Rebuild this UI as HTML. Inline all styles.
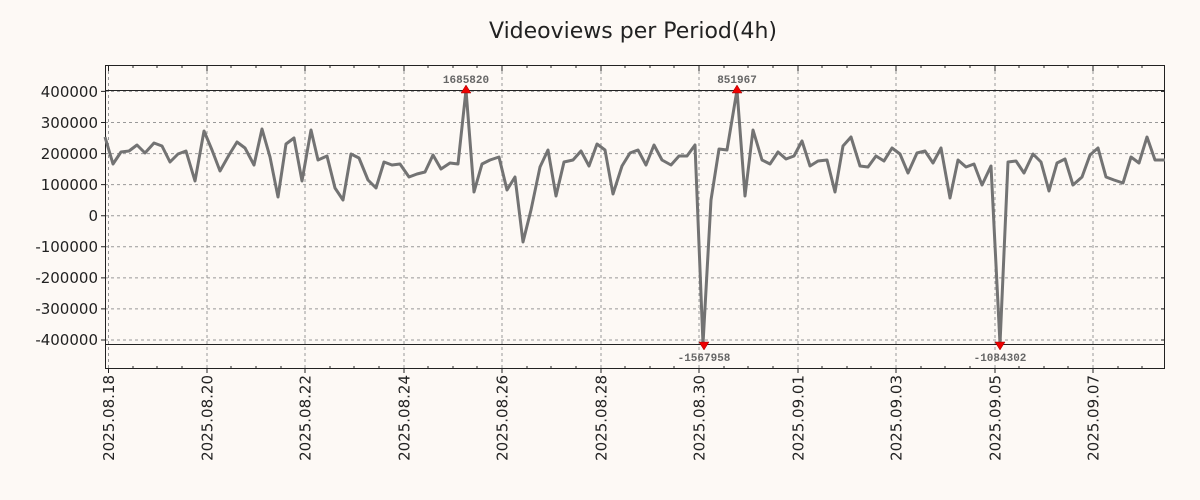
<!DOCTYPE html>
<html><head><style>
html,body{margin:0;padding:0;background:#fdf9f5;}
svg{display:block;font-family:"DejaVu Sans","Liberation Sans",sans-serif;}
</style></head><body>
<svg width="1200" height="500" xmlns="http://www.w3.org/2000/svg">
<rect width="1200" height="500" fill="#fdf9f5"/>
<text x="633" y="38" font-size="22" text-anchor="middle" fill="#222">Videoviews per Period(4h)</text>
<g stroke="#999" stroke-width="1" stroke-dasharray="3,3">
<line x1="105" x2="1165" y1="91.4" y2="91.4"/><line x1="105" x2="1165" y1="122.5" y2="122.5"/>
<line x1="105" x2="1165" y1="153.6" y2="153.6"/><line x1="105" x2="1165" y1="184.6" y2="184.6"/>
<line x1="105" x2="1165" y1="215.7" y2="215.7"/><line x1="105" x2="1165" y1="246.8" y2="246.8"/>
<line x1="105" x2="1165" y1="277.9" y2="277.9"/><line x1="105" x2="1165" y1="308.9" y2="308.9"/>
<line x1="105" x2="1165" y1="340" y2="340"/>
<line x1="108.5" x2="108.5" y1="65" y2="369"/><line x1="207" x2="207" y1="65" y2="369"/>
<line x1="305" x2="305" y1="65" y2="369"/><line x1="404" x2="404" y1="65" y2="369"/>
<line x1="502" x2="502" y1="65" y2="369"/><line x1="601" x2="601" y1="65" y2="369"/>
<line x1="699" x2="699" y1="65" y2="369"/><line x1="798" x2="798" y1="65" y2="369"/>
<line x1="896" x2="896" y1="65" y2="369"/><line x1="995" x2="995" y1="65" y2="369"/>
<line x1="1093" x2="1093" y1="65" y2="369"/>
</g>
<line x1="105" x2="1165" y1="90.5" y2="90.5" stroke="#222" stroke-width="1"/>
<line x1="105" x2="1165" y1="344.5" y2="344.5" stroke="#222" stroke-width="1"/>
<rect x="105.5" y="65.5" width="1059" height="303" fill="none" stroke="#222" stroke-width="1"/>
<g stroke="#222" stroke-width="1" id="ticks">
<path d="M105 91.4h-4M105 122.5h-4M105 153.6h-4M105 184.6h-4M105 215.7h-4M105 246.8h-4M105 277.9h-4M105 308.9h-4M105 340h-4"/>
<path d="M1165 91.4h-4M1165 122.5h-4M1165 153.6h-4M1165 184.6h-4M1165 215.7h-4M1165 246.8h-4M1165 277.9h-4M1165 308.9h-4M1165 340h-4"/>
<path d="M108.5 369v4M207 369v4M305 369v4M404 369v4M502 369v4M601 369v4M699 369v4M798 369v4M896 369v4M995 369v4M1093 369v4"/>
<path d="M108.5 65v6M207 65v6M305 65v6M404 65v6M502 65v6M601 65v6M699 65v6M798 65v6M896 65v6M995 65v6M1093 65v6"/>
<path d="M133 65v3M157 65v3M182 65v3M231 65v3M256 65v3M281 65v3M330 65v3M354 65v3M379 65v3M428 65v3M453 65v3M477 65v3M527 65v3M551 65v3M576 65v3M625 65v3M650 65v3M674 65v3M724 65v3M748 65v3M773 65v3M822 65v3M847 65v3M871 65v3M921 65v3M945 65v3M970 65v3M1019 65v3M1044 65v3M1068 65v3M1118 65v3M1142 65v3"/>
<path d="M133 369v-3M157 369v-3M182 369v-3M231 369v-3M256 369v-3M281 369v-3M330 369v-3M354 369v-3M379 369v-3M428 369v-3M453 369v-3M477 369v-3M527 369v-3M551 369v-3M576 369v-3M625 369v-3M650 369v-3M674 369v-3M724 369v-3M748 369v-3M773 369v-3M822 369v-3M847 369v-3M871 369v-3M921 369v-3M945 369v-3M970 369v-3M1019 369v-3M1044 369v-3M1068 369v-3M1118 369v-3M1142 369v-3"/>
</g>
<g font-size="15" fill="#222" text-anchor="end">
<text x="98" y="97">400000</text><text x="98" y="128">300000</text><text x="98" y="159">200000</text>
<text x="98" y="190">100000</text><text x="98" y="221">0</text><text x="98" y="252">-100000</text>
<text x="98" y="283">-200000</text><text x="98" y="314">-300000</text><text x="98" y="345">-400000</text>
</g>
<g font-size="15" fill="#222" text-anchor="end">
<text transform="translate(114,375) rotate(-90)">2025.08.18</text>
<text transform="translate(212.5,375) rotate(-90)">2025.08.20</text>
<text transform="translate(310.5,375) rotate(-90)">2025.08.22</text>
<text transform="translate(409.5,375) rotate(-90)">2025.08.24</text>
<text transform="translate(507.5,375) rotate(-90)">2025.08.26</text>
<text transform="translate(606.5,375) rotate(-90)">2025.08.28</text>
<text transform="translate(704.5,375) rotate(-90)">2025.08.30</text>
<text transform="translate(803.5,375) rotate(-90)">2025.09.01</text>
<text transform="translate(901.5,375) rotate(-90)">2025.09.03</text>
<text transform="translate(1000.5,375) rotate(-90)">2025.09.05</text>
<text transform="translate(1098.5,375) rotate(-90)">2025.09.07</text>
</g>
<polyline fill="none" stroke="#737373" stroke-width="3" stroke-linejoin="round" points="105,137 113,164 121,152 129,151 137,145 145,153 154,143 162,146 170,162 178,154 186,151 195,181 204,131 212,150 220,171 229,155 237,142 245,148 254,165 262,129 270,157 278,197 286,144 294,138 302,181 311,130 318,160 327,156 335,188 343,200 351,154 359,158 368,180 376,188 384,162 392,165 400,164 409,177 417,174 425,172 433,155 441,169 450,163 458,164 466,90 474,192 482,164 490,160 499,157 507,190 515,177 523,242 531,210 540,167 548,150 556,196 564,162 573,160 581,151 589,166 597,144 605,150 613,194 622,166 630,153 638,150 646,165 654,145 662,160 671,165 679,156 687,156 695,145 703,344 711,200 719,149 727,150 737,90 745,196 753,130 762,160 770,164 778,152 786,159 794,156 802,141 810,166 818,161 827,160 835,192 843,146 851,137 860,166 868,167 876,156 884,161 892,148 900,154 908,173 917,153 925,151 933,163 941,148 950,198 958,160 966,167 974,164 982,185 991,166 1000,344 1008,162 1016,161 1024,173 1033,154 1041,162 1049,191 1057,163 1065,159 1073,185 1082,177 1090,155 1098,148 1106,177 1114,180 1123,183 1131,157 1139,163 1147,137 1155,160 1165,160"/>
<g fill="#e00" stroke="#900" stroke-width="0.5">
<polygon points="466,85 461,93 471,93"/><polygon points="737,85 732,93 742,93"/>
<polygon points="704,350 699,342 709,342"/><polygon points="1000,350 995,342 1005,342"/>
</g>
<g font-family="Liberation Mono,monospace" font-weight="bold" font-size="11" fill="#666" text-anchor="middle">
<text x="466" y="83">1685820</text><text x="737" y="83">851967</text>
<text x="704" y="361">-1567958</text><text x="1000" y="361">-1084302</text>
</g>
</svg>
</body></html>
